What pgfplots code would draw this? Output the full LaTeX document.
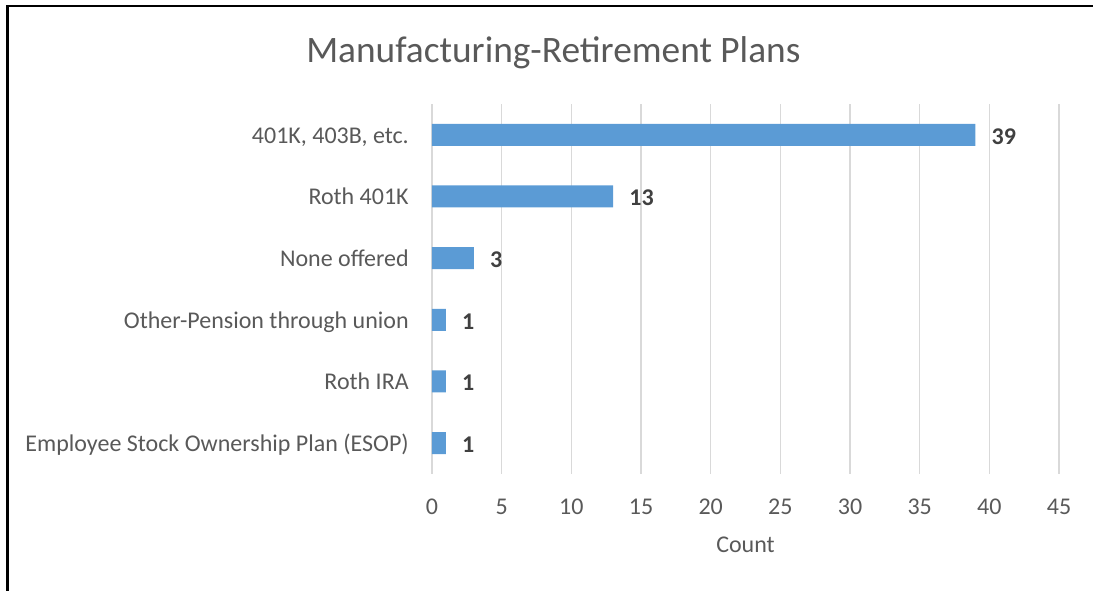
\documentclass[border=0pt]{standalone}
\usepackage{pgfplots}
\pgfplotsset{compat=1.18}
\usepackage{fontspec}
\setmainfont{Carlito}
\definecolor{barblue}{HTML}{5B9BD5}
\definecolor{txtgrey}{HTML}{595959}
\definecolor{lblgrey}{HTML}{404040}
\definecolor{gridgrey}{HTML}{D9D9D9}
\begin{document}
\begin{tikzpicture}[x=1pt,y=1pt]
\useasboundingbox (0,0) rectangle (819.75,443.25);
\draw[line width=1.6pt,black] (5.6,0) -- (5.6,438.6) -- (819.75,438.6);
\node[text=txtgrey,font=\fontsize{28}{33}\selectfont] at (415,403.5) {Manufacturing-Retirement Plans};
\begin{axis}[
  at={(324pt,87.75pt)}, anchor=south west,
  scale only axis, width=470.25pt, height=277.5pt,
  xmin=0, xmax=45, ymin=-0.5, ymax=5.5,
  xtick={0,5,...,45},
  ytick={0,1,2,3,4,5},
  yticklabels={Employee Stock Ownership Plan (ESOP),Roth IRA,Other-Pension through union,None offered,Roth 401K,{401K, 403B, etc.}},
  axis line style={draw=none},
  major tick length=0pt,
  xmajorgrids, ymajorgrids=false,
  grid style={gridgrey, line width=1.2pt},
  /pgf/number format/assume math mode=true,
  tick label style={text=txtgrey, font=\fontsize{18}{21}\selectfont},
  xticklabel style={anchor=center, inner sep=0pt, yshift=-24.75pt},
  yticklabel style={anchor=base east, inner sep=0pt, xshift=-17.25pt, yshift=-6.3pt},
  xlabel={Count},
  xlabel style={text=txtgrey, font=\fontsize{18}{21}\selectfont, at={(axis description cs:0.5,0)}, anchor=center, yshift=-53pt},
  xbar, bar width=16.5pt,
  nodes near coords,
  nodes near coords style={anchor=west, inner sep=0pt, xshift=12pt, yshift=-1.2pt, text=lblgrey, font=\fontsize{18}{21}\selectfont\bfseries},
  clip=false,
]
\addplot[fill=barblue, draw=none, bar shift=0pt] coordinates {
  (1,0) (1,1) (1,2) (3,3) (13,4) (39,5)
};
\end{axis}
\end{tikzpicture}
\end{document}
